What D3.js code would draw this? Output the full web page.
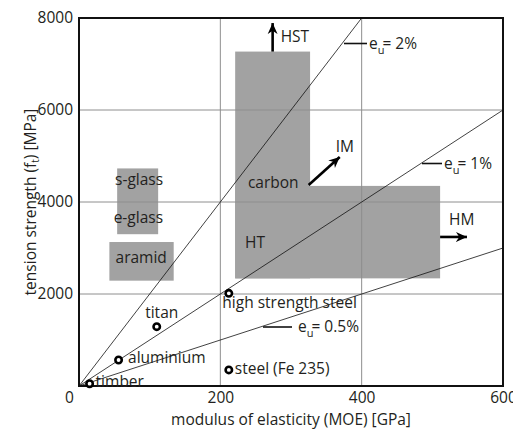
<!DOCTYPE html>
<html><head><meta charset="utf-8">
<script src="https://cdn.jsdelivr.net/npm/d3@7"></script>
<style>
html,body{margin:0;padding:0;background:#fff;}
text{font-family:"Open Sans",sans-serif;fill:#231f20;}
</style></head>
<body><svg id="c" width="513" height="430"></svg>
<script>
// ---- data ----
const xTicks = [0, 200, 400, 600];
const yTicks = [2000, 4000, 6000, 8000];
const strains = [0.02, 0.01, 0.005];
const strainLabels = ["2%", "1%", "0.5%"];
const regionNames = ["glass", "aramid", "carbon HST", "carbon HT"];
const regionE0 = [54, 43, 221, 221];
const regionE1 = [112, 134, 327, 511];
const regionF0 = [3300, 2290, 2340, 2340];
const regionF1 = [4730, 3130, 7270, 4350];
const regionLabels = ["s-glass", "e-glass", "aramid", "carbon", "HT"];
const regionLabelE = [85, 84, 88, 239, 235];
const regionLabelF = [4370, 3540, 2670, 4300, 3000];
const materials = ["timber", "aluminium", "titan", "high strength steel", "steel (Fe 235)"];
const materialE = [15, 56, 110, 212, 212];
const materialF = [50, 565, 1290, 2015, 350];
const arrowNames = ["HST", "IM", "HM"];
const arrowE0 = [274, 325, 511];
const arrowF0 = [7270, 4370, 3240];
const arrowE1 = [274, 369, 549];
const arrowF1 = [7890, 4980, 3240];

// ---- layout ----
const svg = d3.select("#c");
const L = 79, R = 503, T = 18, B = 386;
const x = d3.scaleLinear().domain([0, 600]).range([L, R]);
const y = d3.scaleLinear().domain([0, 8000]).range([B, T]);
const FS = 15.5;

svg.append("defs").append("marker")
  .attr("id", "ah").attr("markerUnits", "userSpaceOnUse")
  .attr("viewBox", "0 0 10 10").attr("refX", 10).attr("refY", 5)
  .attr("markerWidth", 11).attr("markerHeight", 11).attr("orient", "auto")
  .append("path").attr("d", "M0,0.5 L10,5 L0,9.5 L3,5 Z").attr("fill", "#000");

// regions
svg.append("g").selectAll("rect").data(regionNames).join("rect")
  .attr("x", (d, i) => x(regionE0[i]))
  .attr("y", (d, i) => y(regionF1[i]))
  .attr("width", (d, i) => x(regionE1[i]) - x(regionE0[i]))
  .attr("height", (d, i) => y(regionF0[i]) - y(regionF1[i]))
  .attr("fill", "#a2a2a2");

// grid
const grid = svg.append("g").attr("stroke", "#8e8e8e").attr("stroke-width", 1);
grid.selectAll(".gx").data(xTicks.slice(1, -1)).join("line")
  .attr("x1", d => x(d)).attr("x2", d => x(d)).attr("y1", T).attr("y2", B);
grid.selectAll(".gy").data(yTicks.slice(0, -1)).join("line")
  .attr("y1", d => y(d)).attr("y2", d => y(d)).attr("x1", L).attr("x2", R);

// strain lines
svg.append("g").selectAll("line").data(strains).join("line")
  .attr("x1", x(0)).attr("y1", y(0))
  .attr("x2", d => x(Math.min(600, 8000 / (d * 1000))))
  .attr("y2", d => y(Math.min(600, 8000 / (d * 1000)) * d * 1000))
  .attr("stroke", "#111").attr("stroke-width", 0.8);

// frame
svg.append("rect").attr("x", L).attr("y", T).attr("width", R - L).attr("height", B - T)
  .attr("fill", "none").attr("stroke", "#111").attr("stroke-width", 2);

// strain labels with leaders
const leadX0 = [344, 422, 263], leadX1 = [367, 442, 292], leadY = [43.5, 163.5, 327];
strains.forEach((s, i) => {
  svg.append("line").attr("x1", leadX0[i]).attr("x2", leadX1[i])
    .attr("y1", leadY[i]).attr("y2", leadY[i]).attr("stroke", "#111").attr("stroke-width", 1.6);
  const t = svg.append("text").attr("x", leadX1[i] + (i == 2 ? 6 : 2)).attr("y", leadY[i] + 5).attr("font-size", FS);
  t.append("tspan").text("e");
  t.append("tspan").attr("font-size", 11).attr("dy", 5).text("u");
  t.append("tspan").attr("dy", -5).attr("dx", -2).text("= " + strainLabels[i]);
});

// region labels
svg.append("g").selectAll("text").data(regionLabels).join("text")
  .attr("x", (d, i) => x(regionLabelE[i])).attr("y", (d, i) => y(regionLabelF[i]))
  .attr("text-anchor", (d, i) => i < 3 ? "middle" : "start")
  .attr("font-size", FS).text(d => d);

// arrows
svg.append("g").selectAll("line").data(arrowNames).join("line")
  .attr("x1", (d, i) => x(arrowE0[i])).attr("y1", (d, i) => y(arrowF0[i]))
  .attr("x2", (d, i) => x(arrowE1[i])).attr("y2", (d, i) => y(arrowF1[i]))
  .attr("stroke", "#000").attr("stroke-width", 2.6).attr("marker-end", "url(#ah)");
const arrowLabelDx = [8, -4, -18], arrowLabelDy = [19, -5, -12];
svg.append("g").selectAll("text").data(arrowNames).join("text")
  .attr("x", (d, i) => x(arrowE1[i]) + arrowLabelDx[i])
  .attr("y", (d, i) => y(arrowF1[i]) + arrowLabelDy[i])
  .attr("font-size", FS).text(d => d);

// material points
svg.append("g").selectAll("circle").data(materials).join("circle")
  .attr("cx", (d, i) => x(materialE[i])).attr("cy", (d, i) => y(materialF[i]))
  .attr("r", 3.2).attr("fill", "#fff").attr("stroke", "#000").attr("stroke-width", 2.6);
const matDx = [6, 9.5, 5, -6.5, 6], matDy = [3, 3, -9, 15, 4];
svg.append("g").selectAll("text").data(materials).join("text")
  .attr("x", (d, i) => x(materialE[i]) + matDx[i])
  .attr("y", (d, i) => y(materialF[i]) + matDy[i])
  .attr("text-anchor", (d, i) => i == 2 ? "middle" : "start")
  .attr("font-size", FS).text(d => d);

// axes
const xa = svg.append("g").attr("transform", `translate(0,${B})`)
  .call(d3.axisBottom(x).tickValues(xTicks).tickSize(0).tickPadding(6).tickFormat(d3.format("d")));
const ya = svg.append("g").attr("transform", `translate(${L},0)`)
  .call(d3.axisLeft(y).tickValues(yTicks).tickSize(0).tickPadding(6).tickFormat(d3.format("d")));
[xa, ya].forEach(a => {
  a.select(".domain").remove();
  a.selectAll("text").attr("font-size", FS).attr("font-family", "Open Sans").attr("fill", "#231f20");
});
xa.selectAll(".tick").filter(d => d === 0).select("text").attr("dx", -10);

// axis titles
svg.append("text").attr("x", (L + R) / 2).attr("y", 425).attr("text-anchor", "middle")
  .attr("font-size", FS).text("modulus of elasticity (MOE) [GPa]");
const yt = svg.append("text").attr("transform", `translate(36,${y(4000)}) rotate(-90)`)
  .attr("text-anchor", "middle").attr("font-size", FS);
yt.append("tspan").text("tension strength (f");
yt.append("tspan").attr("font-size", 10).attr("dy", 3).text("t");
yt.append("tspan").attr("dy", -3).text(") [MPa]");
</script></body></html>
